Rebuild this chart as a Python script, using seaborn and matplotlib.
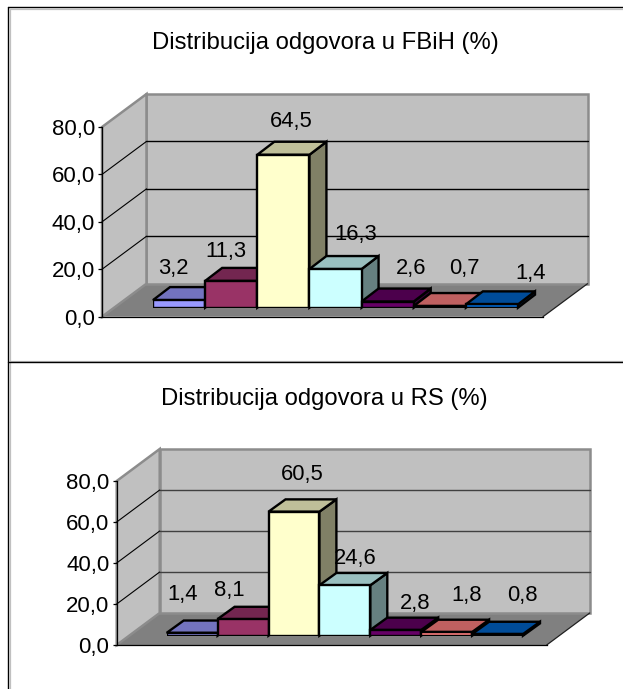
import matplotlib
matplotlib.use("Agg")
import matplotlib.pyplot as plt
from matplotlib.patches import Polygon
from matplotlib.lines import Line2D
import seaborn as sns

W, H = 623, 689

categories = ["A", "B", "C", "D", "E", "F", "G"]
values_fbih = [3.2, 11.3, 64.5, 16.3, 2.6, 0.7, 1.4]
values_rs = [1.4, 8.1, 60.5, 24.6, 2.8, 1.8, 0.8]
title_fbih = "Distribucija odgovora u FBiH (%)"
title_rs = "Distribucija odgovora u RS (%)"
tick_values = [0, 20, 40, 60, 80]
tick_labels = ["0,0", "20,0", "40,0", "60,0", "80,0"]

front_colors = ["#9999FF", "#993366", "#FFFFCC", "#CCFFFF", "#660066", "#FF8080", "#0066CC"]
top_colors = ["#7373BF", "#732650", "#BFBF99", "#99BFBF", "#4C004C", "#BF6060", "#004C99"]
side_colors = ["#4D4D80", "#4D1A33", "#808066", "#668080", "#330033", "#804040", "#003366"]

# per-label pixel offsets from the bar's top centre
label_dx_fbih = [-6, -5, 8, 20, 23, 25, 39]
label_dy_fbih = [32, 29, 33, 35, 33, 38, 31]
label_dx_rs = [-10, -14, 8, 10, 19, 20, 25]
label_dy_rs = [38, 29, 37, 27, 26, 37, 39]

layout_fbih = dict(bar_left=153, bar_right=518, base=307.7, wall_left=102, wall_right=543,
                   wall_base=316.7, wall_top=127, back_dx=44.5, back_dy=33, bar_dx=17, bar_dy=13,
                   grid="#000000", title_y=42.5, title_x=325)
layout_rs = dict(bar_left=166.7, bar_right=523, base=635.7, wall_left=116.7, wall_right=546.7,
                 wall_base=645, wall_top=481, back_dx=43, back_dy=32, bar_dx=17, bar_dy=12.3,
                 grid="#404040", title_y=399.5, title_x=324)

sns.set_theme(style="white")
plt.rcParams["font.family"] = ["Liberation Sans", "DejaVu Sans"]
fig = plt.figure(figsize=(W / 100, H / 100), dpi=100, facecolor="white")

TITLE_PT = 17.2
TICK_PT = 16.0
LABEL_PT = 15.8
BAR_LW = 1.7
WALL = "#C0C0C0"
FLOOR = "#808080"
EDGE = "#8C8C8C"


def panel(values, title, dxs, dys, L):
    scale = (L["wall_base"] - L["wall_top"]) / 80.0
    bw = (L["bar_right"] - L["bar_left"]) / len(values)
    height_px = 80 * scale
    ax = fig.add_axes([L["bar_left"] / W, (H - L["base"]) / H,
                       (L["bar_right"] - L["bar_left"]) / W, height_px / H], zorder=1)
    sns.barplot(x=categories, y=values, hue=categories, palette=front_colors, width=1,
                legend=False, saturation=1, edgecolor="black", linewidth=BAR_LW, ax=ax)
    ax.set_xlim(-0.5, len(values) - 0.5)
    ax.set_ylim(0, 80)
    ax.axis("off")

    # pixel -> data conversions, all relative to this axes' own scales
    to_x = lambda px: (px - L["bar_left"]) / bw - 0.5
    y_below = (L["wall_base"] - L["base"]) / scale
    xl, xr = to_x(L["wall_left"]), to_x(L["wall_right"])
    dxb, dyb = L["back_dx"] / bw, L["back_dy"] / scale
    y0 = -y_below

    def poly(pts, fc, ec="none", lw=0, z=0):
        ax.add_patch(Polygon(pts, closed=True, facecolor=fc, edgecolor=ec, linewidth=lw,
                             zorder=z, clip_on=False, joinstyle="miter"))

    # floor and walls
    poly([(xl, y0), (xr, y0), (xr + dxb, y0 + dyb), (xl + dxb, y0 + dyb)], FLOOR, z=0.1)
    poly([(xl + dxb, y0 + dyb), (xr + dxb, y0 + dyb), (xr + dxb, y0 + dyb + 80), (xl + dxb, y0 + dyb + 80)],
         WALL, ec=EDGE, lw=1.8, z=0.2)
    poly([(xl, y0), (xl + dxb, y0 + dyb), (xl + dxb, y0 + dyb + 80), (xl, y0 + 80)],
         WALL, ec=EDGE, lw=1.8, z=0.2)
    ax.plot([xr, xr + dxb], [y0, y0 + dyb], color="#202020", lw=0.9, zorder=0.3, clip_on=False)

    # gridlines on walls
    for t in tick_values[1:-1]:
        yb = y0 + dyb + t
        ax.plot([xl + dxb, xr + dxb], [yb, yb], color=L["grid"], lw=1.0, zorder=0.4, clip_on=False)
        ax.plot([xl, xl + dxb], [y0 + t, yb], color="black", lw=0.8, zorder=0.4, clip_on=False)

    # 3-D bar sides and tops, painted left to right
    dx, dy = L["bar_dx"] / bw, L["bar_dy"] / scale
    rects = sorted([p for p in ax.patches if not isinstance(p, Polygon)], key=lambda p: p.get_x())
    for i, r in enumerate(rects):
        z = 2 + i
        x0, x1, h = r.get_x(), r.get_x() + r.get_width(), r.get_height()
        poly([(x1, 0), (x1 + dx, dy), (x1 + dx, h + dy), (x1, h)], side_colors[i], "black", BAR_LW, z)
        poly([(x0, h), (x1, h), (x1 + dx, h + dy), (x0 + dx, h + dy)], top_colors[i], "black", BAR_LW, z)
        r.set_zorder(z + 0.1)
        r.set_joinstyle("miter")
        ax.annotate(f"{values[i]:.1f}".replace(".", ","), xy=(i, h),
                    xytext=(dxs[i] * 0.72, dys[i] * 0.72), textcoords="offset points",
                    ha="center", va="center", fontsize=LABEL_PT, color="black",
                    annotation_clip=False, zorder=50)

    # real value axis on the front plane
    axf = fig.add_axes([L["wall_left"] / W, (H - L["wall_base"]) / H,
                        (L["wall_right"] - L["wall_left"]) / W, height_px / H], zorder=2)
    axf.patch.set_visible(False)
    axf.set_ylim(0, 80)
    axf.set_xticks([])
    axf.set_yticks(tick_values)
    axf.set_yticklabels(tick_labels, fontsize=TICK_PT)
    axf.tick_params(axis="y", left=True, length=3.2, width=0.9, pad=2, color="black", labelcolor="black")
    for s in ["top", "right"]:
        axf.spines[s].set_visible(False)
    for s in ["left", "bottom"]:
        axf.spines[s].set_color("black")
        axf.spines[s].set_linewidth(0.9)

    fig.text(L["title_x"] / W, 1 - L["title_y"] / H, title, ha="center", va="center",
             fontsize=TITLE_PT, color="black")


panel(values_fbih, title_fbih, label_dx_fbih, label_dy_fbih, layout_fbih)
panel(values_rs, title_rs, label_dx_rs, label_dy_rs, layout_rs)

# table rules around the two charts
fx = lambda p: p / W
fy = lambda p: 1 - p / H
for xs, ys, c, lw in [
    ((9.5, 9.5), (8.5, H), "#C0C0C0", 0.9),
    ((9.5, W), (8.5, 8.5), "#C0C0C0", 0.9),
    ((9.5, W), (360.7, 360.7), "#C0C0C0", 0.9),
    ((8, 8), (7, H), "black", 1.0),
    ((8, W), (7, 7), "black", 1.0),
    ((8, W), (362, 362), "black", 1.0),
]:
    fig.add_artist(Line2D([fx(a) for a in xs], [fy(b) for b in ys], color=c, lw=lw))

fig.savefig("out.png", dpi=100, facecolor="white")
